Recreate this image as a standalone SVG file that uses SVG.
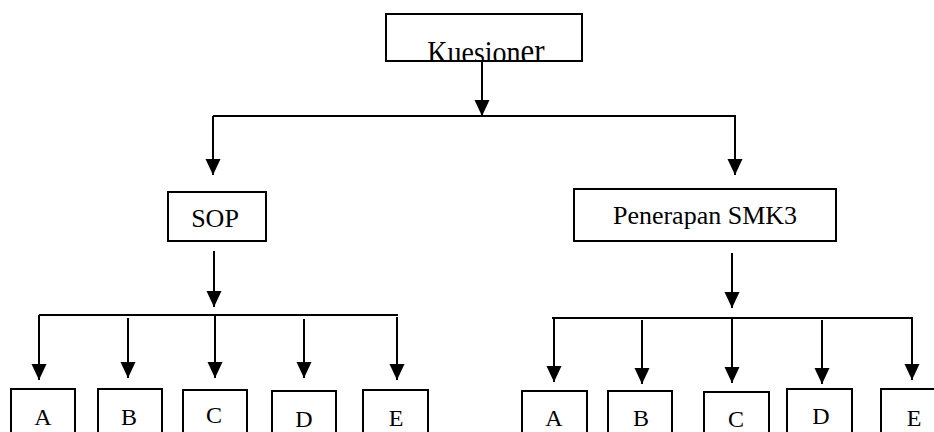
<svg xmlns="http://www.w3.org/2000/svg" width="934" height="432" viewBox="0 0 934 432">
  <style>
    .box { fill: #fff; stroke: #000; stroke-width: 2; }
    .lbl { font-family: "Liberation Serif", "Times New Roman", serif; fill: #000; text-anchor: middle; }
    .big { font-size: 26px; }
    .let { font-size: 24px; }
    .conn line { stroke: #000; stroke-width: 2; }
    .conn line.arr { marker-end: url(#ah); }
  </style>
  <defs>
    <marker id="ah" markerUnits="userSpaceOnUse" markerWidth="16" markerHeight="17" refX="17" refY="8" orient="auto" viewBox="0 0 17 16">
      <path d="M0,0 L17,8 L0,16 Z" fill="#000"/>
    </marker>
    <clipPath id="kclip"><rect x="386" y="14" width="196" height="46"/></clipPath>
  </defs>

  <g id="connectors" class="conn">
    <line class="arr" x1="482" y1="62" x2="482" y2="116"/>
    <line x1="213" y1="116" x2="736" y2="116"/>
    <line class="arr" x1="213" y1="116" x2="213" y2="175"/>
    <line class="arr" x1="735" y1="116" x2="735" y2="175"/>

    <line class="arr" x1="214" y1="251" x2="214" y2="307"/>
    <line x1="39" y1="315" x2="398" y2="315"/>
    <line class="arr" x1="39" y1="315" x2="39" y2="380"/>
    <line class="arr" x1="128" y1="318" x2="128" y2="378"/>
    <line class="arr" x1="215" y1="315" x2="215" y2="378"/>
    <line class="arr" x1="304" y1="319" x2="304" y2="378"/>
    <line class="arr" x1="397" y1="317" x2="397" y2="380"/>

    <line class="arr" x1="732" y1="253" x2="732" y2="308"/>
    <line x1="552" y1="318" x2="913" y2="318"/>
    <line class="arr" x1="554" y1="318" x2="554" y2="382"/>
    <line class="arr" x1="642" y1="320" x2="642" y2="384"/>
    <line class="arr" x1="732" y1="318" x2="732" y2="383"/>
    <line class="arr" x1="822" y1="320" x2="822" y2="384"/>
    <line class="arr" x1="912" y1="318" x2="912" y2="380"/>
  </g>

  <g id="kuesioner">
    <rect class="box" x="386" y="14" width="196" height="47"/>
    <g clip-path="url(#kclip)">
      <text class="lbl" font-size="28" transform="translate(486,63) scale(1,1.15)">Kuesion<tspan font-size="31">er</tspan></text>
    </g>
  </g>

  <g id="sop">
    <rect class="box" x="168" y="192" width="98" height="49"/>
    <text class="lbl big" x="215" y="227">SOP</text>
  </g>

  <g id="penerapan">
    <rect class="box" x="574" y="189" width="262" height="52"/>
    <text class="lbl big" x="705" y="224">Penerapan SMK3</text>
  </g>

  <g id="sop-a"><rect class="box" x="11" y="389" width="64" height="60"/><text class="lbl let" x="43" y="425">A</text></g>
  <g id="sop-b"><rect class="box" x="98" y="389" width="64" height="60"/><text class="lbl let" x="129" y="425">B</text></g>
  <g id="sop-c"><rect class="box" x="183" y="390" width="64" height="60"/><text class="lbl let" x="214" y="423">C</text></g>
  <g id="sop-d"><rect class="box" x="272" y="391" width="64" height="60"/><text class="lbl let" x="304" y="427">D</text></g>
  <g id="sop-e"><rect class="box" x="363" y="390" width="65" height="60"/><text class="lbl let" x="396" y="426">E</text></g>

  <g id="smk-a"><rect class="box" x="522" y="391" width="65" height="60"/><text class="lbl let" x="554" y="426">A</text></g>
  <g id="smk-b"><rect class="box" x="608" y="391" width="64" height="60"/><text class="lbl let" x="641" y="426">B</text></g>
  <g id="smk-c"><rect class="box" x="704" y="392" width="65" height="60"/><text class="lbl let" x="736" y="427">C</text></g>
  <g id="smk-d"><rect class="box" x="787" y="389" width="65" height="60"/><text class="lbl let" x="821" y="424">D</text></g>
  <g id="smk-e"><rect class="box" x="881" y="389" width="64" height="60"/><text class="lbl let" x="914" y="426">E</text></g>
</svg>
